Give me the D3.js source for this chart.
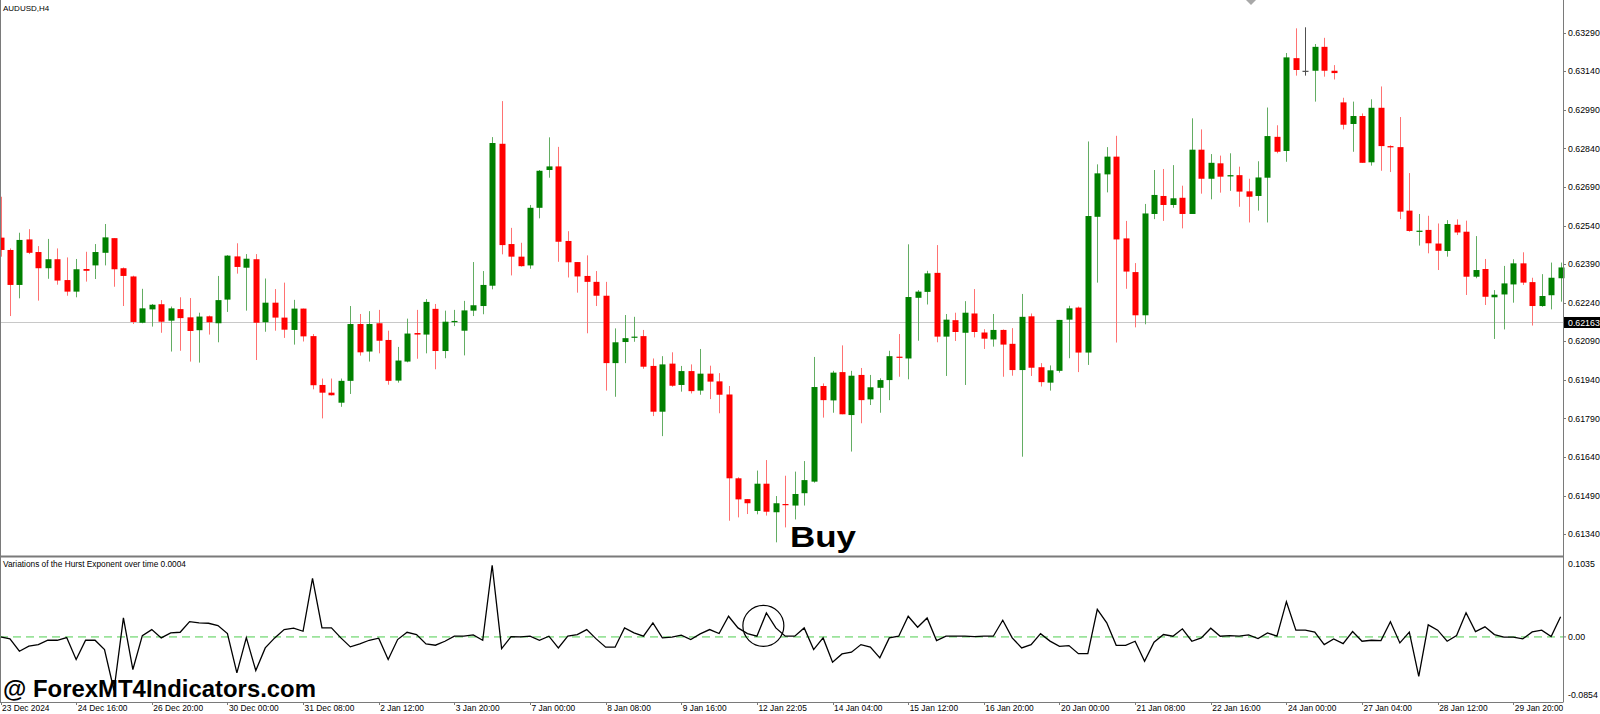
<!DOCTYPE html>
<html>
<head>
<meta charset="utf-8">
<script src="https://cdn.jsdelivr.net/npm/d3@7"></script>
<style>
  html, body { margin: 0; padding: 0; background: #ffffff; }
  svg { display: block; font-family: "Liberation Sans", Arial, sans-serif; }
</style>
</head>
<body>
<div id="chart"></div>
<script>
// AUDUSD H4 candles (bar 0 = 23 Dec 2024 08:00)
var opens = [
  0.62493,0.62445,0.62309,0.62486,0.62437,0.62374,0.62409,0.62328,0.62283,0.62371,
  0.62385,0.62434,0.62491,0.62374,0.62342,0.62162,0.62214,0.62234,0.62170,0.62215,
  0.62183,0.62133,0.62187,0.62160,0.62252,0.62420,0.62376,0.62409,0.62164,0.62240,
  0.62182,0.62134,0.62217,0.62110,0.61920,0.61890,0.61851,0.61936,0.62157,0.62050,
  0.62160,0.62095,0.61937,0.62011,0.62122,0.62116,0.62216,0.62052,0.62164,0.62131,
  0.62209,0.62227,0.62306,0.62858,0.62468,0.62419,0.62385,0.62609,0.62756,0.62770,
  0.62480,0.62398,0.62344,0.62321,0.62267,0.62005,0.62087,0.62105,0.62110,0.61994,
  0.61816,0.62003,0.61920,0.61974,0.61898,0.61964,0.61934,0.61883,0.61557,0.61476,
  0.61430,0.61536,0.61425,0.61457,0.61451,0.61499,0.61544,0.61916,0.61860,0.61970,
  0.61803,0.61959,0.61864,0.61909,0.61939,0.62030,0.62023,0.62259,0.62282,0.62356,
  0.62108,0.62172,0.62123,0.62198,0.62124,0.62097,0.62134,0.62080,0.61978,0.62187,
  0.61989,0.61929,0.61975,0.62174,0.62221,0.62046,0.62574,0.62739,0.62808,0.62490,
  0.62359,0.62191,0.62585,0.62655,0.62620,0.62648,0.62585,0.62835,0.62722,0.62782,
  0.62731,0.62736,0.62673,0.62655,0.62726,0.62885,0.62830,0.63191,0.63142,0.63142,
  0.63235,0.63142,0.63019,0.62935,0.62966,0.62786,0.62998,0.62849,0.62845,0.62598,
  0.62516,0.62523,0.62470,0.62441,0.62543,0.62516,0.62341,0.62371,0.62261,0.62272,
  0.62311,0.62393,0.62320,0.62227,0.62269,0.62335
];
var highs = [
  0.62652,0.62451,0.62512,0.62526,0.62460,0.62488,0.62451,0.62416,0.62410,0.62438,
  0.62468,0.62546,0.62491,0.62377,0.62345,0.62294,0.62235,0.62250,0.62225,0.62261,
  0.62258,0.62201,0.62190,0.62344,0.62425,0.62471,0.62429,0.62429,0.62334,0.62293,
  0.62318,0.62251,0.62217,0.62118,0.61945,0.61945,0.61945,0.62227,0.62196,0.62207,
  0.62212,0.62131,0.62068,0.62178,0.62212,0.62254,0.62235,0.62209,0.62212,0.62247,
  0.62398,0.62363,0.62884,0.63024,0.62531,0.62473,0.62620,0.62756,0.62883,0.62846,
  0.62518,0.62398,0.62424,0.62363,0.62321,0.62140,0.62192,0.62185,0.62134,0.62023,
  0.62032,0.62047,0.61994,0.62000,0.62060,0.61995,0.61966,0.61916,0.61561,0.61476,
  0.61587,0.61628,0.61488,0.61567,0.61583,0.61624,0.62029,0.61926,0.61975,0.62074,
  0.61975,0.61986,0.61959,0.61946,0.62053,0.62118,0.62467,0.62289,0.62364,0.62464,
  0.62196,0.62201,0.62246,0.62293,0.62137,0.62196,0.62136,0.62141,0.62274,0.62198,
  0.62005,0.61996,0.62173,0.62228,0.62225,0.62867,0.62778,0.62845,0.62889,0.62558,
  0.62394,0.62624,0.62756,0.62760,0.62775,0.62695,0.62957,0.62914,0.62818,0.62812,
  0.62821,0.62769,0.62722,0.62790,0.62999,0.62930,0.63211,0.63307,0.63311,0.63246,
  0.63270,0.63164,0.63037,0.63022,0.62976,0.63031,0.63081,0.62852,0.62962,0.62744,
  0.62585,0.62578,0.62548,0.62561,0.62564,0.62559,0.62499,0.62410,0.62289,0.62383,
  0.62409,0.62436,0.62337,0.62351,0.62396,0.62396
];
var lows = [
  0.62419,0.62188,0.62257,0.62429,0.62248,0.62333,0.62310,0.62267,0.62261,0.62322,
  0.62332,0.62385,0.62302,0.62227,0.62157,0.62160,0.62147,0.62123,0.62050,0.62053,
  0.62011,0.62007,0.62116,0.62086,0.62204,0.62353,0.62209,0.62017,0.62127,0.62131,
  0.62103,0.62077,0.62089,0.61903,0.61790,0.61879,0.61835,0.61885,0.62034,0.62011,
  0.62043,0.61921,0.61929,0.62008,0.62022,0.62043,0.61981,0.62024,0.62149,0.62035,
  0.62188,0.62195,0.62292,0.62428,0.62346,0.62380,0.62372,0.62568,0.62726,0.62399,
  0.62338,0.62279,0.62121,0.62227,0.61898,0.61874,0.62005,0.62088,0.61983,0.61799,
  0.61721,0.61913,0.61894,0.61887,0.61882,0.61865,0.61810,0.61392,0.61405,0.61418,
  0.61417,0.61412,0.61308,0.61366,0.61397,0.61451,0.61540,0.61793,0.61812,0.61806,
  0.61661,0.61771,0.61842,0.61812,0.61861,0.61952,0.61942,0.62092,0.62233,0.62086,
  0.61955,0.62091,0.61920,0.62105,0.62060,0.62069,0.61952,0.61956,0.61641,0.61955,
  0.61914,0.61898,0.61968,0.62024,0.61970,0.61998,0.62318,0.62669,0.62085,0.62294,
  0.62144,0.62156,0.62565,0.62558,0.62609,0.62529,0.62585,0.62664,0.62642,0.62668,
  0.62675,0.62613,0.62552,0.62598,0.62552,0.62821,0.62788,0.63123,0.63123,0.63022,
  0.63119,0.63108,0.62914,0.62827,0.62784,0.62773,0.62753,0.62748,0.62565,0.62516,
  0.62462,0.62432,0.62367,0.62419,0.62503,0.62270,0.62335,0.62231,0.62099,0.62136,
  0.62240,0.62309,0.62151,0.62224,0.62214,0.62244
];
var closes = [
  0.62445,0.62309,0.62484,0.62434,0.62374,0.62409,0.62326,0.62283,0.62370,0.62364,
  0.62437,0.62494,0.62370,0.62344,0.62165,0.62218,0.62232,0.62166,0.62218,0.62180,
  0.62130,0.62186,0.62164,0.62250,0.62423,0.62379,0.62411,0.62162,0.62240,0.62182,
  0.62135,0.62217,0.62109,0.61919,0.61890,0.61880,0.61936,0.62157,0.62047,0.62157,
  0.62092,0.61936,0.62015,0.62120,0.62116,0.62243,0.62052,0.62166,0.62169,0.62210,
  0.62230,0.62309,0.62861,0.62464,0.62419,0.62382,0.62609,0.62753,0.62770,0.62477,
  0.62397,0.62342,0.62321,0.62267,0.62005,0.62086,0.62102,0.62108,0.61991,0.61816,
  0.62000,0.61917,0.61974,0.61896,0.61964,0.61933,0.61882,0.61557,0.61475,0.61460,
  0.61536,0.61427,0.61460,0.61453,0.61496,0.61550,0.61912,0.61861,0.61968,0.61806,
  0.61956,0.61861,0.61911,0.61939,0.62032,0.62026,0.62262,0.62283,0.62354,0.62108,
  0.62174,0.62126,0.62201,0.62126,0.62100,0.62134,0.62077,0.61978,0.62185,0.61987,
  0.61931,0.61977,0.62173,0.62218,0.62046,0.62577,0.62743,0.62808,0.62486,0.62361,
  0.62191,0.62587,0.62659,0.62620,0.62646,0.62585,0.62835,0.62722,0.62784,0.62730,
  0.62736,0.62672,0.62652,0.62727,0.62888,0.62827,0.63194,0.63145,0.63142,0.63235,
  0.63142,0.63133,0.62932,0.62966,0.62784,0.62998,0.62849,0.62844,0.62594,0.62519,
  0.62520,0.62471,0.62442,0.62546,0.62513,0.62341,0.62367,0.62263,0.62271,0.62315,
  0.62393,0.62318,0.62227,0.62266,0.62337,0.62377
];

// "Variations of the Hurst Exponent over time" sub-window, one value per bar
var hurst = [
  0.0000,-0.0026,-0.0188,-0.0122,-0.0101,-0.0044,-0.0044,-0.0009,-0.0297,-0.0044,
  -0.0044,-0.0166,-0.0700,0.0249,-0.0428,0.0017,0.0096,-0.0013,0.0052,0.0061,
  0.0201,0.0184,0.0179,0.0149,0.0044,-0.0472,-0.0009,-0.0441,-0.0144,-0.0013,
  0.0096,0.0114,0.0074,0.0769,0.0118,0.0118,-0.0013,-0.0131,-0.0092,-0.0044,
  -0.0017,-0.0297,-0.0035,0.0061,0.0031,-0.0092,-0.0109,-0.0057,0.0009,0.0009,
  0.0026,-0.0044,0.0940,-0.0153,0.0004,0.0000,0.0009,-0.0044,0.0009,-0.0144,
  0.0009,0.0031,0.0096,-0.0026,-0.0135,-0.0135,0.0118,0.0052,0.0009,0.0184,
  -0.0013,-0.0004,0.0022,-0.0035,0.0039,0.0096,0.0044,0.0271,0.0118,0.0044,
  0.0009,0.0315,0.0118,0.0009,0.0009,0.0118,-0.0166,-0.0013,-0.0332,-0.0223,
  -0.0201,-0.0101,-0.0135,-0.0275,-0.0013,0.0009,0.0271,0.0127,0.0249,-0.0048,
  0.0009,0.0009,0.0009,0.0004,0.0009,0.0009,0.0219,-0.0013,-0.0144,-0.0101,
  0.0042,-0.0055,-0.0123,-0.0114,-0.0220,-0.0220,0.0361,0.0185,-0.0110,-0.0110,
  -0.0057,-0.0321,-0.0070,0.0031,0.0009,0.0106,-0.0057,-0.0013,0.0114,0.0009,
  0.0018,0.0009,0.0026,-0.0022,0.0053,0.0009,0.0462,0.0088,0.0088,0.0062,
  -0.0101,-0.0026,-0.0088,0.0070,-0.0057,-0.0044,-0.0048,0.0198,-0.0079,0.0062,
  -0.0519,0.0158,0.0088,-0.0057,0.0018,0.0317,0.0070,0.0132,0.0031,-0.0004,
  -0.0004,-0.0026,0.0066,0.0088,0.0004,0.0264
];

var priceTicks = [0.63290, 0.63140, 0.62990, 0.62840, 0.62690, 0.62540, 0.62390,
                  0.62240, 0.62090, 0.61940, 0.61790, 0.61640, 0.61490, 0.61340];
var hurstTicks = [0.1035, 0.0, -0.0854];
var hurstTickLabels = ["0.1035", "0.00", "-0.0854"];
var timeLabels = ["23 Dec 2024", "24 Dec 16:00", "26 Dec 20:00", "30 Dec 00:00", "31 Dec 08:00",
                  "2 Jan 12:00", "3 Jan 20:00", "7 Jan 00:00", "8 Jan 08:00", "9 Jan 16:00",
                  "12 Jan 22:05", "14 Jan 04:00", "15 Jan 12:00", "16 Jan 20:00", "20 Jan 00:00",
                  "21 Jan 08:00", "22 Jan 16:00", "24 Jan 00:00", "27 Jan 04:00", "28 Jan 12:00",
                  "29 Jan 20:00"];
var barsPerLabel = 8;
var lastPrice = 0.62163;
var symbolTitle = "AUDUSD,H4";
var indicatorTitle = "Variations of the Hurst Exponent over time 0.0004";
var signalBar = 81;        // bar circled in the sub-window
var signalValue = 0.0145;
var signalText = "Buy";
var watermark = "@ ForexMT4Indicators.com";

// ---- layout ----
var width = 1600,
    height = 714,
    axisX = 1563,            // right price scale border
    mainBottom = 556,        // separator between chart and indicator window
    subTop = 558,
    xAxisY = 702;

var candles = opens.map(function (o, i) {
    return {i: i, o: o, h: highs[i], l: lows[i], c: closes[i]};
});

var x = d3.scaleLinear().domain([0, candles.length - 1]).range([0.5, 1560.6]);
var y = d3.scaleLinear().domain([0.61340, 0.63290]).range([534.1, 32.7]);
var ySub = d3.scaleLinear().domain([-0.0854, 0.1035]).range([702, subTop]);

var svg = d3.select("#chart").append("svg")
    .attr("width", width)
    .attr("height", height)
    .attr("viewBox", "0 0 " + width + " " + height);

svg.append("rect").attr("width", width).attr("height", height).attr("fill", "#ffffff");

// current price line
svg.append("line")
    .attr("x1", 0).attr("x2", axisX)
    .attr("y1", Math.round(y(lastPrice)) + 0.5).attr("y2", Math.round(y(lastPrice)) + 0.5)
    .attr("stroke", "#c8c8c8").attr("stroke-width", 1);

function candleColor(d, wick)
{
    if (d.c > d.o) return wick ? "#63ad63" : "#008000";
    if (d.c < d.o) return wick ? "#ff7272" : "#ff0000";
    return "#505050";
}

var candleG = svg.append("g");

// wicks
candleG.selectAll("line.wick").data(candles)
    .enter().append("line")
    .attr("class", "wick")
    .attr("x1", function (d) { return Math.round(x(d.i)) + 0.5; })
    .attr("x2", function (d) { return Math.round(x(d.i)) + 0.5; })
    .attr("y1", function (d) { return y(d.h); })
    .attr("y2", function (d) { return y(d.l); })
    .attr("stroke", function (d) { return candleColor(d, true); })
    .attr("stroke-width", 1);

// bodies
candleG.selectAll("rect.body").data(candles)
    .enter().append("rect")
    .attr("class", "body")
    .attr("x", function (d) { return Math.round(x(d.i)) - 2.5; })
    .attr("width", 6)
    .attr("y", function (d) { return y(Math.max(d.o, d.c)); })
    .attr("height", function (d) { return Math.max(1.2, Math.abs(y(d.o) - y(d.c))); })
    .attr("fill", function (d) { return candleColor(d, false); });

// ---- frame ----
var frame = svg.append("g").attr("stroke", "#7a7a7a");
frame.append("line").attr("x1", 0.5).attr("x2", 0.5).attr("y1", 0).attr("y2", xAxisY).attr("stroke-width", 1);
frame.append("line").attr("x1", axisX + 0.5).attr("x2", axisX + 0.5).attr("y1", 0).attr("y2", xAxisY + 0.5).attr("stroke-width", 1);
frame.append("line").attr("x1", 0).attr("x2", axisX).attr("y1", mainBottom + 0.5).attr("y2", mainBottom + 0.5).attr("stroke-width", 2);
frame.append("line").attr("x1", 0).attr("x2", axisX).attr("y1", xAxisY + 0.5).attr("y2", xAxisY + 0.5).attr("stroke-width", 1);

// shift marker at the top
svg.append("path")
    .attr("d", "M1246,0 L1256,0 L1251,5 Z")
    .attr("fill", "#a8a8a8");

// ---- price scale ----
var priceAxis = svg.append("g").attr("font-size", 8.8).attr("fill", "#000");
priceAxis.selectAll("line").data(priceTicks)
    .enter().append("line")
    .attr("x1", axisX).attr("x2", axisX + 3)
    .attr("y1", function (d) { return Math.round(y(d)) + 0.5; })
    .attr("y2", function (d) { return Math.round(y(d)) + 0.5; })
    .attr("stroke", "#7a7a7a");
priceAxis.selectAll("text").data(priceTicks)
    .enter().append("text")
    .attr("x", axisX + 5)
    .attr("y", function (d) { return y(d) + 3.2; })
    .text(function (d) { return d.toFixed(5); });

// last price tag
svg.append("rect")
    .attr("x", axisX + 1).attr("y", y(lastPrice) - 5.5)
    .attr("width", width - axisX - 1).attr("height", 11)
    .attr("fill", "#000");
svg.append("text")
    .attr("x", axisX + 5).attr("y", y(lastPrice) + 3.2)
    .attr("font-size", 8.8).attr("fill", "#fff")
    .text(lastPrice.toFixed(5));

// ---- titles ----
svg.append("text").attr("x", 3).attr("y", 11).attr("font-size", 8).text(symbolTitle);
svg.append("text").attr("x", 3).attr("y", 567).attr("font-size", 8.3).text(indicatorTitle);

// ---- indicator window ----
svg.append("line")
    .attr("x1", 0).attr("x2", axisX)
    .attr("y1", ySub(0)).attr("y2", ySub(0))
    .attr("stroke", "#9be39b").attr("stroke-width", 1.6)
    .attr("stroke-dasharray", "8,5");

var hurstLine = d3.line()
    .x(function (d, i) { return x(i); })
    .y(function (d) { return ySub(d); });

svg.append("path")
    .datum(hurst)
    .attr("d", hurstLine)
    .attr("fill", "none")
    .attr("stroke", "#000")
    .attr("stroke-width", 1.3)
    .attr("stroke-linejoin", "miter");

svg.append("circle")
    .attr("cx", x(signalBar) - 3)
    .attr("cy", ySub(signalValue))
    .attr("r", 20.5)
    .attr("fill", "none")
    .attr("stroke", "#000")
    .attr("stroke-width", 1.2);

var subAxis = svg.append("g").attr("font-size", 8.8);
subAxis.selectAll("text").data(hurstTicks)
    .enter().append("text")
    .attr("x", axisX + 5)
    .attr("y", function (d, i) {
        if (i == 0) return subTop + 9;
        if (i == hurstTicks.length - 1) return xAxisY - 4;
        return ySub(d) + 3.2;
    })
    .text(function (d, i) { return hurstTickLabels[i]; });
subAxis.selectAll("line").data([0])
    .enter().append("line")
    .attr("x1", axisX).attr("x2", axisX + 3)
    .attr("y1", ySub(0)).attr("y2", ySub(0))
    .attr("stroke", "#7a7a7a");

// ---- time scale ----
var timeAxis = svg.append("g").attr("font-size", 8.4);
timeAxis.selectAll("line").data(timeLabels)
    .enter().append("line")
    .attr("x1", function (d, k) { return Math.round(x(k * barsPerLabel)) + 0.5; })
    .attr("x2", function (d, k) { return Math.round(x(k * barsPerLabel)) + 0.5; })
    .attr("y1", xAxisY).attr("y2", xAxisY + 3)
    .attr("stroke", "#7a7a7a");
timeAxis.selectAll("text").data(timeLabels)
    .enter().append("text")
    .attr("x", function (d, k) { return x(k * barsPerLabel) + 1.5; })
    .attr("y", 711)
    .text(function (d) { return d; });

// ---- annotations ----
svg.append("text")
    .attr("x", 790).attr("y", 547)
    .attr("font-size", 30).attr("font-weight", "bold")
    .attr("textLength", 66).attr("lengthAdjust", "spacingAndGlyphs")
    .text(signalText);

svg.append("text")
    .attr("x", 3).attr("y", 697)
    .attr("font-size", 24).attr("font-weight", "bold")
    .attr("textLength", 313).attr("lengthAdjust", "spacingAndGlyphs")
    .text(watermark);
</script>
</body>
</html>
